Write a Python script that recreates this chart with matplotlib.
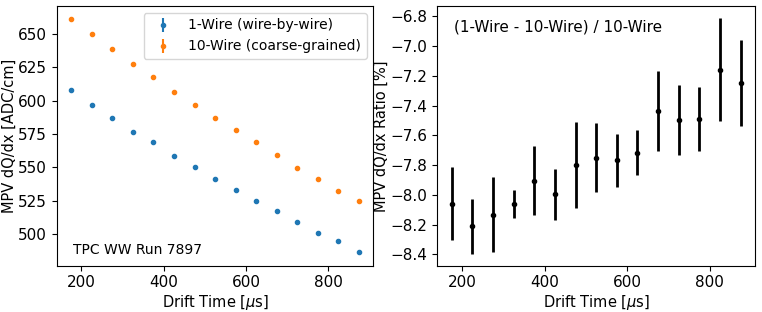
import matplotlib
matplotlib.use("Agg")
import matplotlib.pyplot as plt
import numpy as np

drift_time = [175, 225, 275, 325, 375, 425, 475, 525, 575, 625, 675, 725, 775, 825, 875]

mpv_1wire = [608.0, 596.8, 587.0, 576.7, 569.0, 558.3, 550.3, 541.5, 533.0, 525.0, 517.4, 508.7, 501.0, 494.5, 486.3]
mpv_1wire_err = [1.0, 0.8, 1.0, 0.5, 1.0, 0.8, 1.2, 1.0, 0.8, 0.7, 1.1, 1.0, 0.9, 1.5, 1.2]
mpv_10wire = [661.3, 650.2, 638.8, 627.2, 617.8, 606.8, 596.7, 587.0, 577.7, 568.8, 559.0, 549.8, 541.5, 532.4, 524.4]
mpv_10wire_err = [0.8, 0.6, 0.8, 0.3, 0.7, 0.5, 0.8, 0.6, 0.5, 0.4, 0.7, 0.6, 0.6, 0.8, 0.7]

ratio = [-8.059, -8.211, -8.133, -8.063, -7.905, -7.996, -7.798, -7.749, -7.769, -7.717, -7.438, -7.496, -7.492, -7.159, -7.251]
ratio_err = [0.243, 0.185, 0.250, 0.095, 0.231, 0.170, 0.287, 0.232, 0.177, 0.150, 0.270, 0.233, 0.214, 0.348, 0.289]

fig = plt.figure(figsize=(7.62, 3.12), dpi=100)
ax1 = fig.add_axes([0.0744, 0.1484, 0.4157, 0.8324])
ax2 = fig.add_axes([0.5739, 0.1484, 0.4169, 0.8324])

ax1.errorbar(drift_time, mpv_1wire, yerr=mpv_1wire_err, fmt='.', color='C0', label='1-Wire (wire-by-wire)')
ax1.errorbar(drift_time, mpv_10wire, yerr=mpv_10wire_err, fmt='.', color='C1', label='10-Wire (coarse-grained)')
ax1.set_xlabel(r'Drift Time [$\mu$s]', fontsize=10.5, labelpad=2)
ax1.set_ylabel('MPV dQ/dx [ADC/cm]', fontsize=10.5, labelpad=1)
ax1.tick_params(labelsize=11)
ax1.legend(loc='upper right', fontsize=10)
ax1.text(0.05, 0.06, 'TPC WW Run 7897', transform=ax1.transAxes, fontsize=10, va='center')

ax2.errorbar(drift_time, ratio, yerr=ratio_err, fmt='.', color='k', elinewidth=2)
ax2.set_xlabel(r'Drift Time [$\mu$s]', fontsize=10.5, labelpad=2)
ax2.set_ylabel('MPV dQ/dx Ratio [%]', fontsize=10.5, labelpad=1)
ax2.tick_params(labelsize=11)
ax2.set_yticks([-8.4, -8.2, -8.0, -7.8, -7.6, -7.4, -7.2, -7.0, -6.8])
ax2.text(0.053, 0.92, '(1-Wire - 10-Wire) / 10-Wire', transform=ax2.transAxes, fontsize=11, va='center')

fig.savefig('out.png', dpi=100)
